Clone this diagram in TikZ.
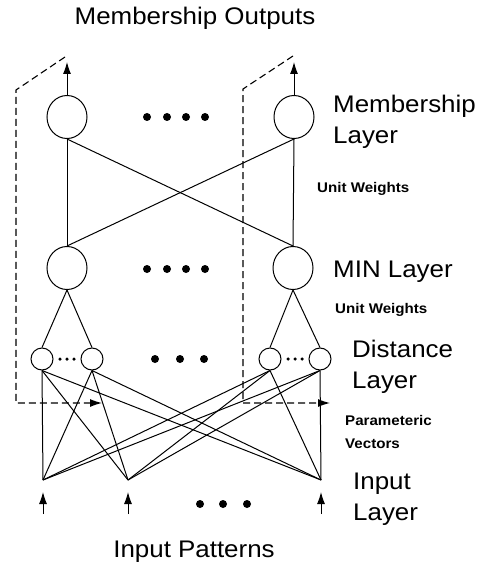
\documentclass[tikz,border=0pt]{standalone}
\usepackage{fontspec}
\setmainfont[FakeStretch=1.08]{Liberation Sans}
\usetikzlibrary{shapes.geometric,arrows.meta}

\begin{document}
\begin{tikzpicture}[x=1pt,y=-1pt,
  wire/.style={line width=1pt},
  bigunit/.style={draw, line width=1pt, ellipse, minimum width=40pt, minimum height=43pt, inner sep=0pt},
  smallunit/.style={draw, line width=1pt, circle, minimum size=22pt, inner sep=0pt},
  feedback/.style={line width=1.1pt, dash pattern=on 7pt off 4pt},
  uptip/.style={-{Latex[length=12pt,width=8pt]}},
  bigdot/.style={circle, fill, minimum size=8pt, inner sep=0pt},
  tinydot/.style={circle, fill, minimum size=3.5pt, inner sep=0pt},
  biglabel/.style={font=\fontsize{24}{31}\selectfont, inner sep=0pt, anchor=base west, align=left},
  smalllabel/.style={font=\fontsize{14}{23}\selectfont\bfseries, inner sep=0pt, anchor=base west, align=left}
]
\useasboundingbox (0,0) rectangle (483,567);

% membership layer
\node[bigunit] (m1) at (67,117) {};
\node[bigunit] (m2) at (294,117) {};
% MIN layer
\node[bigunit] (n1) at (67,268) {};
\node[bigunit] (n2) at (293,268) {};
% distance layer
\node[smallunit] (d1) at (42,359) {};
\node[smallunit] (d2) at (92,359) {};
\node[smallunit] (d3) at (270,359) {};
\node[smallunit] (d4) at (320,359) {};
% input points
\coordinate (i1) at (43,480);
\coordinate (i2) at (128,480);
\coordinate (i3) at (321,480);

% ellipsis dots
\foreach \x [count=\k] in {147,167,186,205} {
  \node[bigdot] (mdot\k) at (\x,117) {};
  \node[bigdot] (ndot\k) at (\x,269) {};
}
\foreach \x [count=\k] in {155,180,204} \node[bigdot] (ddot\k) at (\x,359) {};
\foreach \x [count=\k] in {200,223,247} \node[bigdot] (idot\k) at (\x,504) {};
\foreach \x [count=\k] in {60,67,74} \node[tinydot] (lsd\k) at (\x,359) {};
\foreach \x [count=\k] in {288,295,302} \node[tinydot] (rsd\k) at (\x,359) {};

% unit-weight connections
\draw[wire] (m1.south) -- (n1.north);
\draw[wire] (m1.south) -- (n2.north);
\draw[wire] (m2.south) -- (n1.north);
\draw[wire] (m2.south) -- (n2.north);
\draw[wire] (n1.south) -- (d1.north);
\draw[wire] (n1.south) -- (d2.north);
\draw[wire] (n2.south) -- (d3.north);
\draw[wire] (n2.south) -- (d4.north);

% parametric vector connections
\foreach \d in {d1,d2,d3,d4}
  \foreach \i in {i1,i2,i3}
    \draw[wire] (\d.south) -- (\i);

% outputs
\coordinate (o1) at (67,62);
\coordinate (o2) at (294,62);
\draw[wire,uptip] (m1.north) -- (o1);
\draw[wire,uptip] (m2.north) -- (o2);

% input arrows
\foreach \x [count=\k] in {43,128,321} {
  \coordinate (ia\k) at (\x,514);
  \coordinate (ib\k) at (\x,492);
  \draw[wire,uptip] (ia\k) -- (ib\k);
}

% dashed feedback paths
\coordinate (fa1) at (65,57);
\coordinate (fb1) at (16,90);
\coordinate (fc1) at (16,403);
\coordinate (fd1) at (102,403);
\draw[feedback,uptip] (fa1) -- (fb1) -- (fc1) -- (fd1);
\coordinate (fa2) at (293,56);
\coordinate (fb2) at (243,89);
\coordinate (fc2) at (243,403);
\coordinate (fd2) at (330,403);
\draw[feedback,uptip] (fa2) -- (fb2) -- (fc2) -- (fd2);

% labels (multi-line labels sit on the baseline of their last line)
\node[biglabel, anchor=base] (tout) at (195,25) {Membership Outputs};
\node[biglabel] (tmem) at (333,143) {Membership\\Layer};
\node[smalllabel] (tuw1) at (317,192) {Unit Weights};
\node[biglabel] (tmin) at (333,277) {MIN Layer};
\node[smalllabel] (tuw2) at (335,313) {Unit Weights};
\node[biglabel] (tdist) at (352,388) {Distance\\Layer};
\node[smalllabel] (tpar) at (345,448) {Parameteric\\Vectors};
\node[biglabel] (tin) at (353,520) {Input\\Layer};
\node[biglabel, anchor=base] (tpat) at (194,557) {Input Patterns};
\end{tikzpicture}
\end{document}
